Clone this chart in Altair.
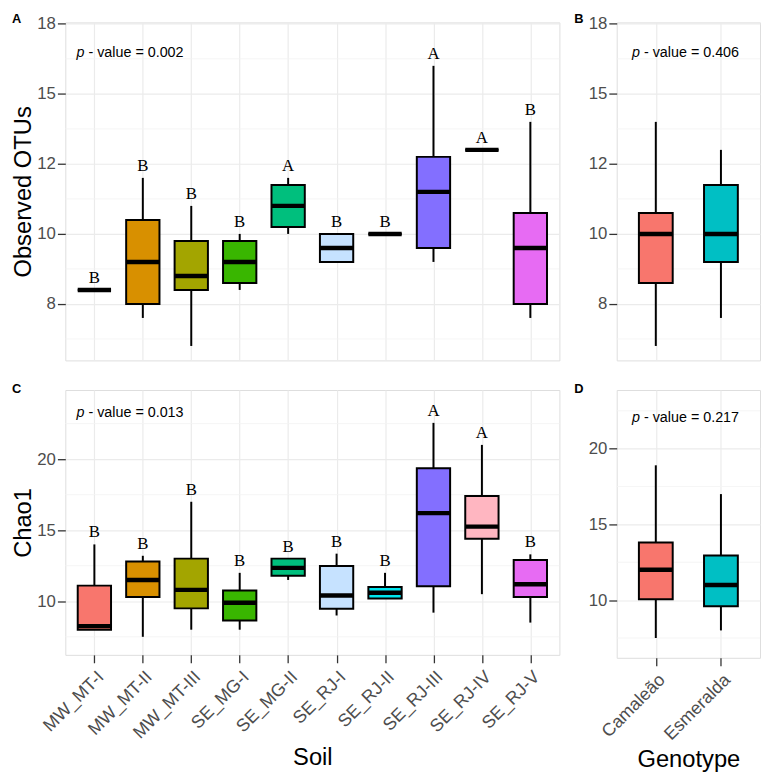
import altair as alt
import pandas as pd

# ---------------- data ----------------
soil = ["MW_MT-I", "MW_MT-II", "MW_MT-III", "SE_MG-I", "SE_MG-II",
        "SE_RJ-I", "SE_RJ-II", "SE_RJ-III", "SE_RJ-IV", "SE_RJ-V"]
soil_colors = ["#F8766D", "#D89000", "#A3A500", "#39B600", "#00BF7D",
               "#C6E2FF", "#00E5EE", "#836FFF", "#FFB6C1", "#E76BF3"]
genotype = ["Camaleão", "Esmeralda"]
genotype_colors = ["#F8766D", "#00BFC4"]

# Observed OTUs by soil
obs_soil_lower = [8.0, 7.0, 6.0, 8.0, 10.0, 9.0, 10.0, 9.0, 13.0, 7.0]
obs_soil_q1 = [8.0, 7.5, 8.0, 8.25, 10.25, 9.0, 10.0, 9.5, 13.0, 7.5]
obs_soil_median = [8.0, 9.0, 8.5, 9.0, 11.0, 9.5, 10.0, 11.5, 13.0, 9.5]
obs_soil_q3 = [8.0, 10.5, 9.75, 9.75, 11.75, 10.0, 10.0, 12.75, 13.0, 10.75]
obs_soil_upper = [8.0, 12.0, 11.0, 10.0, 12.0, 10.0, 10.0, 16.0, 13.0, 14.0]
obs_soil_letters = ["B", "B", "B", "B", "A", "B", "B", "A", "A", "B"]

# Observed OTUs by genotype
obs_geno_lower = [6.0, 7.0]
obs_geno_q1 = [8.25, 9.0]
obs_geno_median = [10.0, 10.0]
obs_geno_q3 = [10.75, 11.75]
obs_geno_upper = [14.0, 13.0]

# Chao1 by soil
chao_soil_lower = [8.0, 7.5, 8.0, 8.0, 11.5, 9.0, 10.2, 9.2, 10.5, 8.5]
chao_soil_q1 = [8.0, 10.3, 9.5, 8.65, 11.8, 9.47, 10.2, 11.05, 14.4, 10.3]
chao_soil_median = [8.25, 11.5, 10.8, 9.9, 12.35, 10.4, 10.6, 16.2, 15.25, 11.2]
chao_soil_q3 = [11.1, 12.8, 13.0, 10.75, 13.0, 12.48, 11.0, 19.35, 17.4, 12.9]
chao_soil_upper = [14.0, 13.2, 17.0, 12.0, 13.0, 13.35, 12.0, 22.55, 21.0, 13.3]
chao_soil_letters = ["B", "B", "B", "B", "B", "B", "B", "A", "A", "B"]

# Chao1 by genotype
chao_geno_lower = [7.5, 8.0]
chao_geno_q1 = [10.05, 9.6]
chao_geno_median = [12.0, 11.0]
chao_geno_q3 = [13.8, 12.95]
chao_geno_upper = [18.9, 17.0]

# axes
obs_domain = [5.485, 17.55]
obs_tick_values = [7.5, 10, 12.5, 15, 17.5]
obs_tick_labels = ["8", "10", "12", "15", "18"]
obs_minor = [6.25, 8.75, 11.25, 13.75, 16.25]

chao_domain = [6.23, 24.86]
chao_geno_domain = [6.19, 23.87]
chao_tick_values = [10, 15, 20]
chao_tick_labels = ["10", "15", "20"]
chao_minor = [7.5, 12.5, 17.5, 22.5]

pvals = ["0.002", "0.406", "0.013", "0.217"]
panel_tags = ["A", "B", "C", "D"]

FONT = "Liberation Sans"


def label_expr(values, labels):
    expr = "''"
    for v, l in reversed(list(zip(values, labels))):
        expr = f"abs(datum.value - {v}) < 1e-6 ? '{l}' : ({expr})"
    return expr


def panel(cats, colors, lower, q1, med, q3, upper, letters, ydomain, yticks,
          ylabels, yminor, ytitle, pval, pval_y, pval_cat, pval_dx, xtitle,
          show_x, width, height, tag, tag_x, tag_y):
    n = len(cats)
    df = pd.DataFrame({"cat": cats, "lower": lower, "q1": q1, "med": med,
                       "q3": q3, "upper": upper,
                       "letter": letters if letters else [""] * n})
    step = width / (n + 1.2)
    bw = 0.755 * step
    xscale = alt.Scale(type="point", domain=cats, padding=0.6)
    yscale = alt.Scale(domain=ydomain, nice=False, zero=False)
    yaxis = alt.Axis(values=yticks, labelExpr=label_expr(yticks, ylabels),
                     title=ytitle, grid=True, gridColor="#EBEBEB",
                     gridWidth=1.2, domain=False, tickColor="#333333",
                     tickSize=8, tickWidth=1.3, labelPadding=2,
                     labelFontSize=17, labelColor="#4D4D4D", labelFont=FONT,
                     titleFont=FONT, titleFontSize=24, titleFontWeight="normal",
                     titleColor="black", titlePadding=1)
    if show_x:
        xaxis = alt.Axis(title=xtitle, labelAngle=-45, labelAlign="right",
                         labelBaseline="top", labelPadding=5, labelFontSize=18,
                         labelColor="#4D4D4D", labelFont=FONT, grid=True,
                         gridColor="#EBEBEB", gridWidth=1.2, domain=False,
                         tickColor="#333333", tickSize=8, tickWidth=1.3,
                         titleFont=FONT, titleFontSize=24,
                         titleFontWeight="normal", titleColor="black",
                         titlePadding=4)
    else:
        xaxis = alt.Axis(title=None, labels=False, ticks=False, domain=False,
                         grid=True, gridColor="#EBEBEB", gridWidth=1.2)

    def X():
        return alt.X("cat:N", scale=xscale, axis=xaxis)

    minor_df = pd.DataFrame({"lower": yminor})
    minor = alt.Chart(minor_df).mark_rule(color="#F2F2F2", strokeWidth=0.8).encode(
        y=alt.Y("lower:Q", scale=yscale, axis=yaxis))

    base = alt.Chart(df)
    whisk = base.mark_rule(color="black", strokeWidth=2).encode(
        x=X(), y=alt.Y("lower:Q", scale=yscale, axis=yaxis), y2="upper:Q")
    box = base.mark_bar(size=bw, stroke="black", strokeWidth=2).encode(
        x=X(), y=alt.Y("q1:Q", scale=yscale, axis=yaxis), y2="q3:Q",
        fill=alt.Fill("cat:N", scale=alt.Scale(domain=cats, range=colors),
                      legend=None))
    median = base.mark_tick(size=bw, thickness=4.5, color="black", opacity=1).encode(
        x=X(), y=alt.Y("med:Q", scale=yscale, axis=yaxis))
    layers = [minor, whisk, box, median]
    if letters:
        let = base.mark_text(font="Liberation Serif", fontSize=17, dy=-12,
                             baseline="middle", color="black").encode(
            x=X(), y=alt.Y("upper:Q", scale=yscale, axis=yaxis),
            text="letter:N")
        layers.append(let)

    pdf = pd.DataFrame({"cat": [pval_cat], "upper": [pval_y], "p": ["p"],
                        "rest": ["- value = " + pval]})
    pbase = alt.Chart(pdf)
    p1 = pbase.mark_text(font=FONT, fontSize=14.5, fontStyle="italic",
                         align="left", baseline="middle", dx=pval_dx,
                         color="black").encode(
        x=X(), y=alt.Y("upper:Q", scale=yscale, axis=yaxis), text="p:N")
    p2 = pbase.mark_text(font=FONT, fontSize=14.5, align="left",
                         baseline="middle", dx=pval_dx + 12,
                         color="black").encode(
        x=X(), y=alt.Y("upper:Q", scale=yscale, axis=yaxis), text="rest:N")
    layers += [p1, p2]

    tagc = alt.Chart(pd.DataFrame({"tag": [tag]})).mark_text(
        font=FONT, fontSize=13, fontWeight="bold", align="left",
        baseline="alphabetic", color="black").encode(
        x=alt.value(tag_x), y=alt.value(tag_y), text="tag:N")
    layers.append(tagc)

    return alt.layer(*layers).properties(width=width, height=height)


pA = panel(soil, soil_colors, obs_soil_lower, obs_soil_q1, obs_soil_median,
           obs_soil_q3, obs_soil_upper, obs_soil_letters, obs_domain,
           obs_tick_values, obs_tick_labels, obs_minor, "Observed OTUs",
           pvals[0], 16.46, soil[0], -18, "Soil", False, 500, 342,
           panel_tags[0], -54, 1)
pB = panel(genotype, genotype_colors, obs_geno_lower, obs_geno_q1,
           obs_geno_median, obs_geno_q3, obs_geno_upper, None, obs_domain,
           obs_tick_values, obs_tick_labels, obs_minor, None,
           pvals[1], 16.46, genotype[0], -24, "Genotype", False, 145, 342,
           panel_tags[1], -43, 1)
pC = panel(soil, soil_colors, chao_soil_lower, chao_soil_q1, chao_soil_median,
           chao_soil_q3, chao_soil_upper, chao_soil_letters, chao_domain,
           chao_tick_values, chao_tick_labels, chao_minor, "Chao1",
           pvals[2], 23.24, soil[0], -18, "Soil", True, 500, 268,
           panel_tags[2], -54, 3)
pD = panel(genotype, genotype_colors, chao_geno_lower, chao_geno_q1,
           chao_geno_median, chao_geno_q3, chao_geno_upper, None,
           chao_geno_domain, chao_tick_values, chao_tick_labels, chao_minor,
           None, pvals[3], 22.0, genotype[0], -24, "Genotype", True, 145, 271,
           panel_tags[3], -43, 3)

top = alt.hconcat(pA, pB, spacing=13).resolve_scale(fill="independent")
bottom = alt.hconcat(pC, pD, spacing=13).resolve_scale(fill="independent")
chart = alt.vconcat(top, bottom, spacing=21).resolve_scale(fill="independent").properties(
    padding={"left": 3, "top": 0, "right": 0, "bottom": 0}
).configure_view(stroke="#333333", strokeWidth=1.3).configure(font=FONT)

chart.save("out.html", embed_options={"renderer": "svg", "actions": False})
